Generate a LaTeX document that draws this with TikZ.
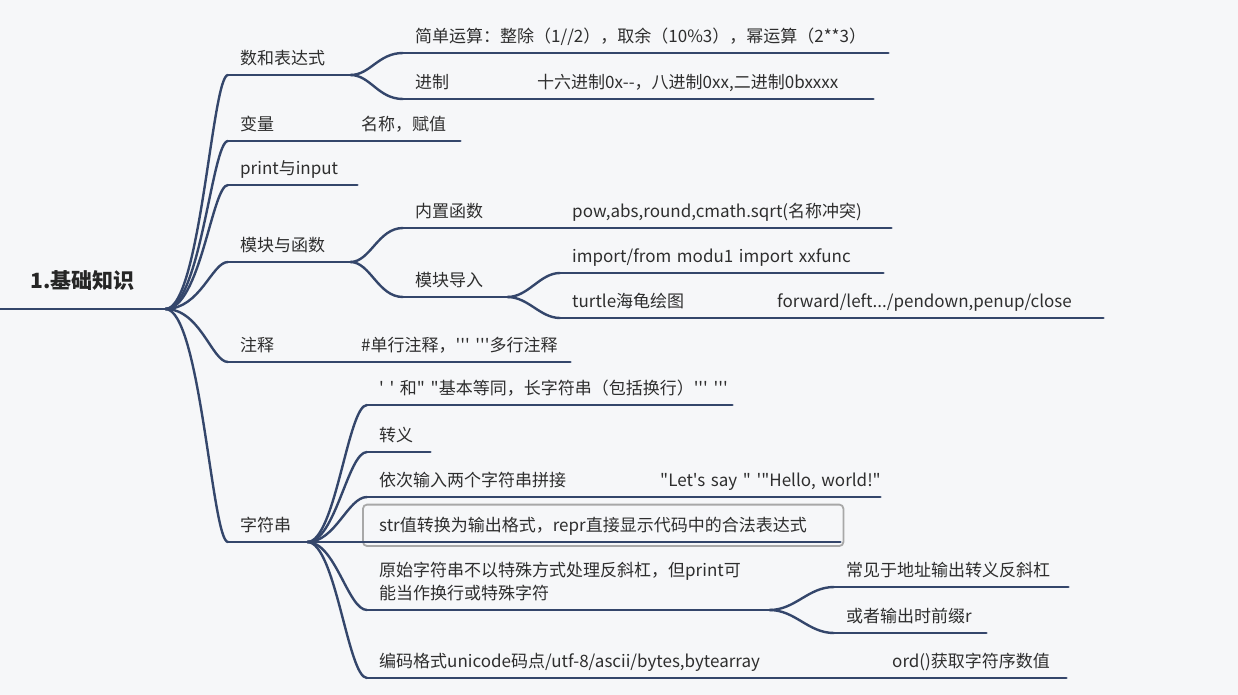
\documentclass[tikz,border=0pt]{standalone}
\usepackage{fontspec}
\newfontfamily\cnfont{Noto Sans CJK SC}
\usetikzlibrary{calc}

\definecolor{bg}{HTML}{F6F7F9}
\definecolor{branchcol}{HTML}{34466B}
\definecolor{textcol}{HTML}{2E2E2E}
\definecolor{selcol}{HTML}{A8A8A8}

\tikzset{
    branch/.style = {draw=branchcol, line width=2.4pt, line cap=round},
    topic/.style = {anchor=south west, align=left, inner xsep=12pt,
        inner ysep=6pt, text height=13pt, text depth=4pt, text=textcol,
        font=\cnfont\fontsize{17}{23}\selectfont},
    rootbox/.style = {anchor=south west, align=center, inner sep=0pt,
        text width=165pt, text height=18pt, text depth=20pt, text=black!85,
        font=\cnfont\bfseries\fontsize{21}{25}\selectfont},
    selbox/.style = {draw=selcol, line width=1.8pt, rounded corners=4pt}
}

\begin{document}
\begin{tikzpicture}[x=1pt, y=-1pt]
    \fill[bg] (0,0) rectangle (1238,695);
    \useasboundingbox (0,0) rectangle (1238,695);

    % root
    \node(root) [rootbox] at (0,309) {1.基础知识};

    % first level
    \node(num) [topic, text width=98pt] at (228,75) {数和表达式};
    \node(var) [topic, text width=97pt] at (228,141) {变量};
    \node(io) [topic, text width=105pt] at (228,185) {print与input};
    \node(mod) [topic, text width=98pt] at (228,262) {模块与函数};
    \node(cmt) [topic, text width=97pt] at (228,362) {注释};
    \node(str) [topic, text width=55pt] at (228,542) {字符串};

    % numbers
    \node(calc) [topic, text width=461pt] at (403,53)
        {简单运算：整除（1//2），取余（10\%3），幂运算（2**3）};
    \node(base) [topic, text width=98pt] at (403,99) {进制};
    \node(baseval) [topic, text width=324pt] at (525,99)
        {十六进制0x--，八进制0xx,二进制0bxxxx};

    % variables, comments
    \node(varval) [topic, text width=87pt] at (349,141) {名称，赋值};
    \node(cmtval) [topic, text width=197pt] at (349,362)
        {\#单行注释，''' '''多行注释};

    % modules
    \node(builtin) [topic, text width=133pt] at (403,228) {内置函数};
    \node(builtinval) [topic, text width=307pt] at (560,228)
        {pow,abs,round,cmath.sqrt(名称冲突)};
    \node(imp) [topic, text width=80pt] at (403,297) {模块导入};
    \node(impfrom) [topic, text width=299pt] at (560,273)
        {\mbox{import/from modu1 import xxfunc}};
    \node(turtle) [topic, text width=181pt] at (560,318) {turtle海龟绘图};
    \node(turtleval) [topic, text width=314pt] at (765,318)
        {forward/left.../pendown,penup/close};

    % strings
    \node(s1) [topic, text width=341pt] at (367,405)
        {\mbox{' ' 和" "基本等同，长字符串（包括换行）''' '''}};
    \node(s2) [topic, text width=39pt] at (367,452) {转义};
    \node(s3) [topic, text width=257pt] at (367,497) {依次输入两个字符串拼接};
    \node(s3val) [topic, text width=208pt] at (648,497)
        {\mbox{"Let's say " '"Hello, world!"}};
    \node(s4) [topic, text width=449pt] at (367,542)
        {str值转换为输出格式，repr直接显示代码中的合法表达式};
    \node(s5) [topic, text width=378pt, text depth=27pt] at (367,610)
        {原始字符串不以特殊方式处理反斜杠，但print可\\能当作换行或特殊字符};
    \node(s5a) [topic, text width=210pt] at (834,587) {常见于地址输出转义反斜杠};
    \node(s5b) [topic, text width=128pt] at (834,633) {或者输出时前缀r};
    \node(s6) [topic, text width=489pt] at (367,678)
        {编码格式unicode码点/utf-8/ascii/bytes,bytearray};
    \node(s6val) [topic, text width=162pt] at (880,678) {ord()获取字符序数值};

    % underlines
    \foreach \n in {root,num,var,io,mod,cmt,str,calc,base,baseval,varval,
        cmtval,builtin,builtinval,imp,impfrom,turtle,turtleval,
        s1,s2,s3,s3val,s4,s5,s5a,s5b,s6,s6val}
        \draw[branch] (\n.south west) -- (\n.south east);

    % selected topic
    \draw[selbox] ([yshift=8pt]s4.north west) ++(-4,0)
        rectangle ([xshift=3pt,yshift=-4pt]s4.south east);

    % connectors
    \foreach \c in {num,var,io,mod,cmt,str}
        \draw[branch] (root.south east) .. controls +(35,0) and +(-16,0)
            .. (\c.south west);
    \foreach \c in {calc,base}
        \draw[branch] (num.south east) .. controls +(20,0) and +(-25,0)
            .. (\c.south west);
    \foreach \c in {builtin,imp}
        \draw[branch] (mod.south east) .. controls +(20,0) and +(-25,0)
            .. (\c.south west);
    \foreach \c in {impfrom,turtle}
        \draw[branch] (imp.south east) .. controls +(21,0) and +(-20,0)
            .. (\c.south west);
    \foreach \c in {s1,s2,s3,s4,s5,s6}
        \draw[branch] (str.south east) .. controls +(28,0) and +(-19,0)
            .. (\c.south west);
    \foreach \c in {s5a,s5b}
        \draw[branch] (s5.south east) .. controls +(26,0) and +(-26,0)
            .. (\c.south west);
\end{tikzpicture}
\end{document}
